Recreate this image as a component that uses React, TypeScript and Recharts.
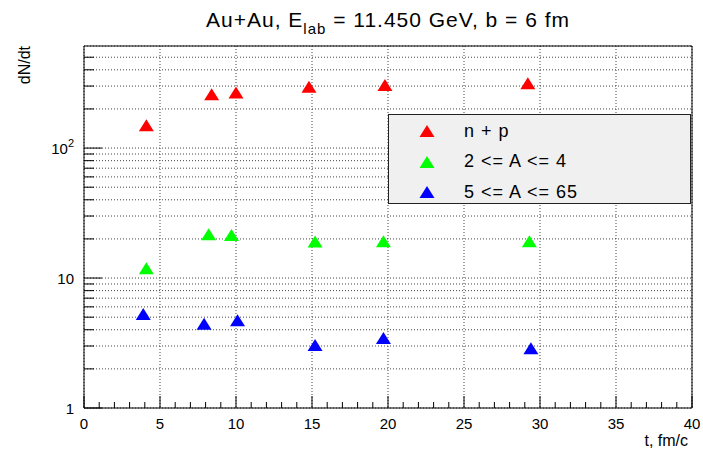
import React from "react";
import {
  ScatterChart,
  Scatter,
  XAxis,
  YAxis,
  CartesianGrid,
  Legend,
  ReferenceArea,
} from "recharts";

// times (fm/c) and dN/dt per fragment class
const T_NP = [4.1, 8.4, 10.0, 14.8, 19.8, 29.2];
const V_NP = [150, 260, 268, 296, 305, 315];
const T_LIGHT = [4.1, 8.2, 9.7, 15.2, 19.7, 29.3];
const V_LIGHT = [11.9, 21.7, 21.4, 19.1, 19.2, 19.2];
const T_HEAVY = [3.9, 7.9, 10.1, 15.2, 19.7, 29.4];
const V_HEAVY = [5.28, 4.45, 4.73, 3.05, 3.45, 2.88];

const SERIES = [
  { name: "n + p", color: "#ff0000", t: T_NP, v: V_NP },
  { name: "2 <= A <= 4", color: "#00ff00", t: T_LIGHT, v: V_LIGHT },
  { name: "5 <= A <= 65", color: "#0000ff", t: T_HEAVY, v: V_HEAVY },
];
const SERIES_NAMES = SERIES.map((s) => s.name);

const X_TICKS = Array.from({ length: 41 }, (_, i) => i);
const X_GRID = [0, 5, 10, 15, 20, 25, 30, 35, 40];
const Y_TICKS = [
  1, 2, 3, 4, 5, 6, 7, 8, 9,
  10, 20, 30, 40, 50, 60, 70, 80, 90,
  100, 200, 300, 400, 500,
];
const Y_MAJOR = [1, 10, 100];
const Y_DOMAIN = [1, 610];

const FONT = "'Liberation Sans', Arial, Helvetica, sans-serif";

const Triangle = (props: any) => {
  const { cx, cy, fill } = props;
  if (cx == null || cy == null) return null;
  return (
    <polygon
      points={`${cx},${cy - 6} ${cx - 7.5},${cy + 6} ${cx + 7.5},${cy + 6}`}
      fill={fill}
    />
  );
};

const XTick = (props: any) => {
  const { x, y, payload } = props;
  const v = payload.value;
  const major = v % 5 === 0;
  return (
    <g>
      <line x1={x} x2={x} y1={y} y2={y - (major ? 12 : 6)} stroke="#000" />
      {major && (
        <text x={x} y={y + 21} textAnchor="middle" fontSize={15} fontFamily={FONT} fill="#000">
          {v}
        </text>
      )}
    </g>
  );
};

const YTick = (props: any) => {
  const { x, y, payload } = props;
  const v = payload.value;
  const major = Y_MAJOR.includes(v);
  return (
    <g>
      <line x1={x} x2={x + (major ? 18 : 10)} y1={y} y2={y} stroke="#000" />
      {major && (
        <text x={x - 10} y={y + 6} textAnchor="end" fontSize={15} fontFamily={FONT} fill="#000">
          {v === 100 ? (
            <>
              10
              <tspan dy={-7} fontSize={11}>2</tspan>
            </>
          ) : (
            v
          )}
        </text>
      )}
    </g>
  );
};

const LegendBox = (props: any) => {
  const items = [...(props.payload || [])].sort(
    (a: any, b: any) => SERIES_NAMES.indexOf(a.value) - SERIES_NAMES.indexOf(b.value)
  );
  return (
    <div
      style={{
        width: 303,
        height: 90,
        background: "#f0f0f0",
        border: "1px solid #222",
        boxSizing: "border-box",
        position: "relative",
        fontFamily: FONT,
      }}
    >
      {items.map((it: any, i: number) => (
        <div
          key={i}
          style={{ position: "absolute", left: 0, top: 16 + i * 30.5 - 12, height: 24, display: "flex", alignItems: "center" }}
        >
          <svg width={60} height={24} style={{ marginLeft: 8 }}>
            <polygon points="30,6 22.5,18 37.5,18" fill={it.color} />
          </svg>
          <span style={{ marginLeft: 7, fontSize: 18, letterSpacing: 1, color: "#000" }}>{it.value}</span>
        </div>
      ))}
    </div>
  );
};

export default function App() {
  return (
    <div style={{ position: "absolute", left: 0, top: 0, width: 703, height: 450, background: "#fff" }}>
      <div
        style={{
          position: "absolute",
          left: 388,
          top: 8,
          transform: "translateX(-50%)",
          whiteSpace: "nowrap",
          fontFamily: FONT,
          fontSize: 21,
          letterSpacing: 1,
          lineHeight: "24px",
        }}
      >
        Au+Au, E<sub style={{ fontSize: 15, verticalAlign: -7 }}>lab</sub> = 11.450 GeV, b = 6 fm
      </div>
      <ScatterChart width={703} height={450} margin={{ top: 46, right: 11, bottom: 0, left: 0 }}>
        <CartesianGrid
          stroke="#444"
          strokeDasharray="1 2"
          verticalValues={X_GRID}
        />
        <XAxis
          type="number"
          dataKey="t"
          domain={[0, 40]}
          ticks={X_TICKS}
          interval={0}
          height={42}
          tickSize={0}
          tickMargin={0}
          axisLine={false}
          tickLine={false}
          tick={<XTick />}
          allowDataOverflow
          label={(p: any) => {
            const vb = p.viewBox;
            return (
              <text x={vb.x + vb.width - 4} y={vb.y + 38} textAnchor="end" fontSize={16} fontFamily={FONT} fill="#000">
                t, fm/c
              </text>
            );
          }}
        />
        <YAxis
          type="number"
          dataKey="v"
          scale="log"
          domain={Y_DOMAIN}
          ticks={Y_TICKS}
          interval={0}
          width={84}
          tickSize={0}
          tickMargin={0}
          axisLine={false}
          tickLine={false}
          tick={<YTick />}
          allowDataOverflow
          label={(p: any) => {
            const vb = p.viewBox;
            const x = vb.x + 30;
            const y = vb.y;
            return (
              <text x={x} y={y} transform={`rotate(-90, ${x}, ${y})`} textAnchor="end" fontSize={16} fontFamily={FONT} fill="#000">
                dN/dt
              </text>
            );
          }}
        />
        <ReferenceArea x1={0} x2={40} y1={Y_DOMAIN[0]} y2={Y_DOMAIN[1]} fill="none" stroke="#000" strokeWidth={1} />
        <Legend
          layout="vertical"
          align="center"
          verticalAlign="middle"
          content={<LegendBox />}
          wrapperStyle={{ left: 388, top: 114, width: 303, height: 90 }}
        />
        {SERIES.map((s) => (
          <Scatter
            key={s.name}
            name={s.name}
            data={s.t.map((t, i) => ({ t, v: s.v[i] }))}
            fill={s.color}
            shape={<Triangle />}
            isAnimationActive={false}
          />
        ))}
      </ScatterChart>
    </div>
  );
}
